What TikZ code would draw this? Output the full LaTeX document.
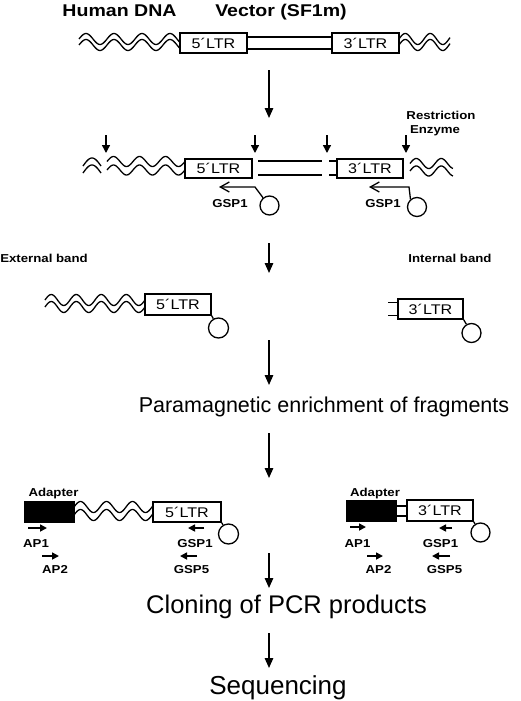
\documentclass[tikz,border=0pt]{standalone}
\usepackage{fontspec}
\setmainfont{Liberation Sans}
\newfontfamily\lblfont{Liberation Sans}[FakeStretch=1.15]
\usetikzlibrary{arrows.meta,calc}
\newcommand\wavyline[5]{% x1, x2, ycenter, period, amplitude
  \draw[wave] plot[domain=#1:#2, samples=80, smooth] (\x, {#3 - #5*sin(((\x-#1)/#4)*360)});}
\newcommand\wavypair[6]{% x1 x2 ytop ybottom period amplitude
  \wavyline{#1}{#2}{#3}{#5}{#6}\wavyline{#1}{#2}{#4}{#5}{#6}}
\begin{document}
\begin{tikzpicture}[x=1pt,y=-1pt,
  ltr/.style={draw, line width=1.3pt, minimum height=20pt, inner sep=0pt, fill=white,
    font=\lblfont\fontsize{14}{14}\selectfont},
  bead/.style={circle, draw, line width=1.3pt, minimum size=19pt, inner sep=0pt},
  adapt/.style={draw, fill=black, minimum width=50pt, minimum height=21pt, inner sep=0pt},
  lab/.style={font=\lblfont\bfseries\fontsize{11.5}{12}\selectfont, inner sep=0pt, anchor=base},
  title/.style={font=\lblfont\bfseries\fontsize{17}{18}\selectfont, inner sep=0pt, anchor=base},
  big/.style={inner sep=0pt, anchor=base},
  flowarrow/.style={line width=1.5pt, -{Triangle[length=10pt,width=8.5pt]}},
  cut/.style={line width=1.4pt, -{Triangle[length=8pt,width=8pt]}},
  primer/.style={line width=1.6pt, -{Triangle[length=7pt,width=7pt]}},
  gsp/.style={line width=1.3pt, -{Straight Barb[length=9pt,width=10pt]}},
  wave/.style={line width=1.3pt},
  dna/.style={line width=1.3pt}]
\useasboundingbox (0,0) rectangle (520,701);

% ---------- titles
\node[title] (hdna) at (119.5,17) {Human DNA};
\node[title] (vec) at (281,17) {Vector (SF1m)};

% ---------- row 1
\wavypair{79}{180}{39}{45}{28}{5.5}
\node[ltr, minimum width=67pt] (L1) at (213.5,43) {5´LTR};
\node[ltr, minimum width=67pt] (R1) at (365.5,43) {3´LTR};
\draw[dna] ([yshift=6pt]L1.east) -- ([yshift=6pt]R1.west);
\draw[dna] ([yshift=-6pt]L1.east) -- ([yshift=-6pt]R1.west);
\wavypair{399}{450}{39}{45}{25}{5.5}

\coordinate (a1s) at (269,70); \coordinate (a1e) at (269,118);
\draw[flowarrow] (a1s) -- (a1e);

% ---------- row 2
\node[lab] (restr) at (441,119) {Restriction};
\node[lab] (enz) at (435,133) {Enzyme};
\foreach \i/\xx in {1/106,2/255,3/327,4/406}{
  \coordinate (r\i s) at (\xx,135); \coordinate (r\i e) at (\xx,153);
  \draw[cut] (r\i s) -- (r\i e);}
% chevron fragment
\draw[wave] plot[domain=83:101, samples=30, smooth] (\x, {166 - 8*sin(((\x-83)/18)*180)});
\draw[wave] plot[domain=83:101, samples=30, smooth] (\x, {173 - 8*sin(((\x-83)/18)*180)});
\wavypair{107}{185}{161.5}{170}{26}{5}
\node[ltr, minimum width=67pt, minimum height=19pt] (L2) at (218.5,168.5) {5´LTR};
\draw[dna] (258,161) -- (322,161);
\draw[dna] (258,175) -- (322,175);
\node[ltr, minimum width=66pt, minimum height=19pt] (R2) at (370,168.5) {3´LTR};
\draw[dna] (329,161) -- (R2.west |- 0,161);
\draw[dna] (329,175) -- (R2.west |- 0,175);
\wavypair{410}{453}{163.5}{171}{25}{5}
% GSP1 primers with beads
\node[bead] (C2L) at (269.5,205.5) {};
\coordinate (g1k) at (255,187); \coordinate (g1t) at (219,187);
\draw[gsp] (C2L.130) -- (g1k) -- (g1t);
\node[lab] (gsp1a) at (230,207) {GSP1};
\node[bead] (C2R) at (417,207) {};
\coordinate (g2k) at (409,187); \coordinate (g2t) at (369,187);
\draw[gsp] (C2R.130) -- (g2k) -- (g2t);
\node[lab] (gsp1b) at (383,207) {GSP1};

\coordinate (a2s) at (269,243); \coordinate (a2e) at (269,273);
\draw[flowarrow] (a2s) -- (a2e);

% ---------- row 3
\node[lab] (ext) at (44,262) {External band};
\node[lab] (int) at (450,262) {Internal band};
\wavypair{45}{145}{300}{307}{25}{5.5}
\node[ltr, minimum width=66pt, minimum height=21pt] (L3) at (178,304.5) {5´LTR};
\node[bead, minimum size=20pt] (C3L) at (218.5,328) {};
\draw[dna] (L3.south east) -- (C3L);
\node[ltr, minimum width=65pt] (R3) at (430.5,309) {3´LTR};
\draw[dna] (388,302.5) -- (R3.west |- 0,302.5);
\draw[dna] (388,315.5) -- (R3.west |- 0,315.5);
\node[bead] (C3R) at (471.5,333) {};
\draw[dna] (R3.south east) -- (C3R);

\coordinate (a3s) at (269,340); \coordinate (a3e) at (269,385);
\draw[flowarrow] (a3s) -- (a3e);

\node[big, font=\fontsize{21.5}{24}\selectfont] (para) at (324,412) {Paramagnetic enrichment of fragments};

\coordinate (a4s) at (269,433); \coordinate (a4e) at (269,478);
\draw[flowarrow] (a4s) -- (a4e);

% ---------- row 4 left
\node[lab] (adL) at (53.5,496) {Adapter};
\node[adapt] (BL) at (49,511.5) {};
\wavypair{74}{153}{507}{515}{26}{5.5}
\node[ltr, minimum width=68pt] (L4) at (187,512) {5´LTR};
\node[bead, minimum size=20pt] (C4L) at (228.5,534) {};
\draw[dna] (L4.south east) -- (C4L);
\coordinate (p1s) at (28,528); \coordinate (p1e) at (47,528);
\draw[primer] (p1s) -- (p1e);
\node[lab] (ap1L) at (36,547) {AP1};
\coordinate (p2s) at (42,556); \coordinate (p2e) at (59,556);
\draw[primer] (p2s) -- (p2e);
\node[lab] (ap2L) at (55,573) {AP2};
\coordinate (p3s) at (204,528); \coordinate (p3e) at (188,528);
\draw[primer] (p3s) -- (p3e);
\node[lab] (gs1L) at (195,547) {GSP1};
\coordinate (p4s) at (197,556); \coordinate (p4e) at (180,556);
\draw[primer] (p4s) -- (p4e);
\node[lab] (gs5L) at (191.5,573) {GSP5};

% ---------- row 4 right
\node[lab] (adR) at (375,496) {Adapter};
\node[adapt] (BR) at (371,510.5) {};
\node[ltr, minimum width=66pt, minimum height=21pt] (R4) at (440,510.5) {3´LTR};
\draw[dna] (BR.east |- 0,506) -- (R4.west |- 0,506);
\draw[dna] (BR.east |- 0,516) -- (R4.west |- 0,516);
\node[bead] (C4R) at (480.5,532.5) {};
\draw[dna] (R4.south east) -- (C4R);
\coordinate (q1s) at (350,527); \coordinate (q1e) at (366,527);
\draw[primer] (q1s) -- (q1e);
\node[lab] (ap1R) at (357.5,547) {AP1};
\coordinate (q2s) at (367,556); \coordinate (q2e) at (383,556);
\draw[primer] (q2s) -- (q2e);
\node[lab] (ap2R) at (378.5,573) {AP2};
\coordinate (q3s) at (452,528); \coordinate (q3e) at (439,528);
\draw[primer] (q3s) -- (q3e);
\node[lab] (gs1R) at (440.5,547) {GSP1};
\coordinate (q4s) at (450,556); \coordinate (q4e) at (432,556);
\draw[primer] (q4s) -- (q4e);
\node[lab] (gs5R) at (444.5,573) {GSP5};

\coordinate (a5s) at (269,553); \coordinate (a5e) at (269,588);
\draw[flowarrow] (a5s) -- (a5e);
\node[big, font=\fontsize{25.5}{28}\selectfont] (clon) at (286.5,613) {Cloning of PCR products};
\coordinate (a6s) at (269,633); \coordinate (a6e) at (269,668);
\draw[flowarrow] (a6s) -- (a6e);
\node[big, font=\fontsize{26}{28}\selectfont] (seq) at (278,694) {Sequencing};
\end{tikzpicture}
\end{document}
